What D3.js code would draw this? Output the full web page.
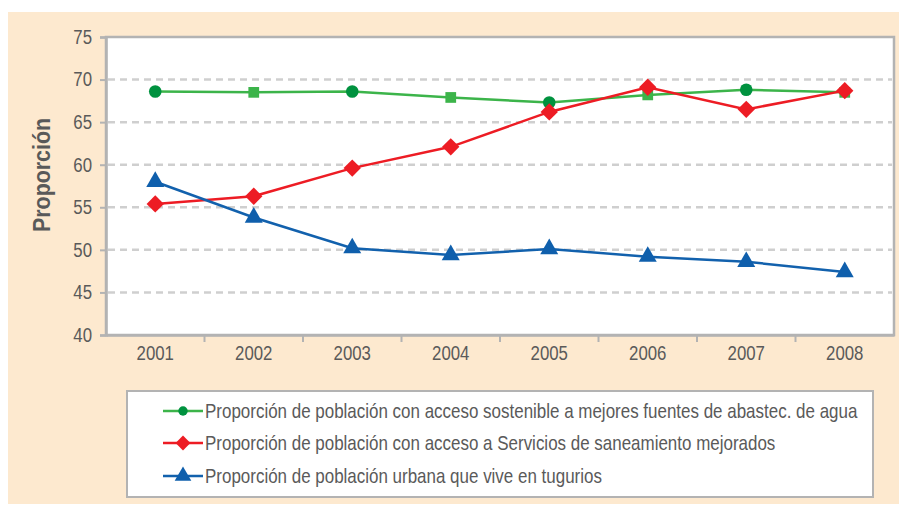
<!DOCTYPE html>
<html>
<head>
<meta charset="utf-8">
<script src="https://cdn.jsdelivr.net/npm/d3@7"></script>
<style>
  html, body { margin: 0; padding: 0; background: #fff; }
  svg text { font-family: "Liberation Sans", "DejaVu Sans", sans-serif; }
</style>
</head>
<body>
<svg id="chart" width="899" height="506"></svg>
<script>
// Years on the horizontal axis
const years = ["2001", "2002", "2003", "2004", "2005", "2006", "2007", "2008"];

// Series values (percent)
const aguaValues = [68.6, 68.5, 68.6, 67.9, 67.3, 68.2, 68.8, 68.5];
const saneamientoValues = [55.4, 56.3, 59.6, 62.1, 66.2, 69.1, 66.5, 68.7];
const tuguriosValues = [58.0, 53.8, 50.2, 49.4, 50.1, 49.2, 48.6, 47.4];

// Series labels
const seriesNames = [
  "Proporción de población con acceso sostenible a mejores fuentes de abastec. de agua",
  "Proporción de población con acceso a Servicios de saneamiento mejorados",
  "Proporción de población urbana que vive en tugurios"
];

const yTicks = [40, 45, 50, 55, 60, 65, 70, 75];
const yLabel = "Proporción";

const svg = d3.select("#chart");
const W = 899, H = 506;

// Peach backdrop
svg.append("rect").attr("x", 8).attr("y", 12).attr("width", W - 8).attr("height", 492)
  .attr("fill", "#fde9cf");

const plot = { left: 106, right: 894, top: 37, bottom: 335 };

const x = d3.scaleBand().domain(years).range([plot.left, plot.right]);
const y = d3.scaleLinear().domain([40, 75]).range([plot.bottom, plot.top]);

// Plot area
svg.append("rect")
  .attr("x", plot.left).attr("y", plot.top)
  .attr("width", plot.right - plot.left).attr("height", plot.bottom - plot.top)
  .attr("fill", "#fff").attr("stroke", "#b3b3b3").attr("stroke-width", 2.5);

// Dashed gridlines
svg.append("g").selectAll("line")
  .data(yTicks.filter(t => t > 40 && t < 75))
  .join("line")
  .attr("x1", plot.left + 2).attr("x2", plot.right - 2)
  .attr("y1", d => y(d)).attr("y2", d => y(d))
  .attr("stroke", "#cfcfcf").attr("stroke-width", 2.5)
  .attr("stroke-dasharray", "7,5");

// Condensed look for axis labels
const narrow = sel => sel.each(function () {
  const t = d3.select(this);
  const w = this.getComputedTextLength();
  t.attr("textLength", w * 0.84).attr("lengthAdjust", "spacingAndGlyphs");
});

// Y axis
const yAxis = svg.append("g")
  .attr("transform", `translate(${plot.left},0)`)
  .call(d3.axisLeft(y).tickValues(yTicks).tickSize(6).tickPadding(8));
yAxis.select(".domain").attr("stroke", "#b3b3b3").attr("stroke-width", 2.5);
yAxis.selectAll(".tick line").attr("stroke", "#b3b3b3").attr("stroke-width", 2);
yAxis.selectAll(".tick text").attr("fill", "#5a5a5a").attr("font-size", 20).call(narrow);

// X axis: ticks on band boundaries
const xAxis = svg.append("g")
  .attr("transform", `translate(0,${plot.bottom})`)
  .call(d3.axisBottom(x).tickSize(0).tickPadding(11));
xAxis.select(".domain").attr("stroke", "#b3b3b3").attr("stroke-width", 2.5);
xAxis.selectAll(".tick text").attr("fill", "#5a5a5a").attr("font-size", 20).call(narrow);
svg.append("g").selectAll("line")
  .data(years.slice(1))
  .join("line")
  .attr("x1", d => x(d)).attr("x2", d => x(d))
  .attr("y1", plot.bottom).attr("y2", plot.bottom + 7)
  .attr("stroke", "#b3b3b3").attr("stroke-width", 2);

// Y axis title
svg.append("text")
  .attr("transform", `translate(50,${(plot.top + plot.bottom) / 2 - 11}) rotate(-90)`)
  .attr("text-anchor", "middle")
  .attr("fill", "#595959").attr("font-size", 23).attr("font-weight", "bold")
  .attr("textLength", 114).attr("lengthAdjust", "spacingAndGlyphs")
  .text(yLabel);

const cx = d => x(d) + x.bandwidth() / 2;

// Marker shapes
const circleSym = d3.symbol().type(d3.symbolCircle).size(125)();
const squareSym = d3.symbol().type(d3.symbolSquare).size(115)();
const diamondSym = d3.symbol().type(d3.symbolSquare).size(150)();
const triangleSym = d3.symbol().type(d3.symbolTriangle).size(140)();

const series = [
  { values: aguaValues, line: "#3cb44a", marks: (i) => i % 2 === 0 ? { path: circleSym, fill: "#00923f", rot: 0 } : { path: squareSym, fill: "#3cb44a", rot: 0 } },
  { values: saneamientoValues, line: "#ed1c24", marks: () => ({ path: diamondSym, fill: "#ed1c24", rot: 45 }) },
  { values: tuguriosValues, line: "#1261ad", marks: () => ({ path: triangleSym, fill: "#0f5fac", rot: 0 }) }
];

const lineGen = d3.line().x((d, i) => cx(years[i])).y(d => y(d));

series.forEach(s => {
  svg.append("path")
    .datum(s.values)
    .attr("d", lineGen)
    .attr("fill", "none")
    .attr("stroke", s.line)
    .attr("stroke-width", 2.5);
});

series.forEach(s => {
  svg.append("g").selectAll("path")
    .data(s.values)
    .join("path")
    .attr("d", (d, i) => s.marks(i).path)
    .attr("fill", (d, i) => s.marks(i).fill)
    .attr("transform", (d, i) => `translate(${cx(years[i])},${y(d)}) rotate(${s.marks(i).rot})`);
});

// Legend
const legend = svg.append("g");
legend.append("rect")
  .attr("x", 127).attr("y", 391).attr("width", 746).attr("height", 106)
  .attr("fill", "#fff").attr("stroke", "#b3b3b3").attr("stroke-width", 2);

const legendMarks = [
  { path: d3.symbol().type(d3.symbolCircle).size(70)(), fill: "#00923f", rot: 0 },
  { path: d3.symbol().type(d3.symbolSquare).size(110)(), fill: "#ed1c24", rot: 45 },
  { path: d3.symbol().type(d3.symbolTriangle).size(120)(), fill: "#0f5fac", rot: 0 }
];
const rowY = [411, 443, 476];

const labels = [];
seriesNames.forEach((name, i) => {
  const g = legend.append("g").attr("transform", `translate(0,${rowY[i]})`);
  g.append("line").attr("x1", 163).attr("x2", 203).attr("y1", 0).attr("y2", 0)
    .attr("stroke", series[i].line).attr("stroke-width", 2.5);
  g.append("path").attr("d", legendMarks[i].path).attr("fill", legendMarks[i].fill)
    .attr("transform", `translate(183,0) rotate(${legendMarks[i].rot})`);
  const label = g.append("g").attr("class", "legend-label");
  label.append("text").attr("x", 0).attr("y", 0).attr("dy", "0.35em")
    .attr("fill", "#5a5a5a").attr("font-size", 20)
    .text(name);
  labels.push(label);
});

// Same horizontal squeeze for every legend label, sized so the longest fits
const longest = labels[0].select("text").node().getComputedTextLength();
const kLegend = 653 / longest;
legend.selectAll("g.legend-label").attr("transform", `translate(205,0) scale(${kLegend},1)`);
</script>
</body>
</html>
